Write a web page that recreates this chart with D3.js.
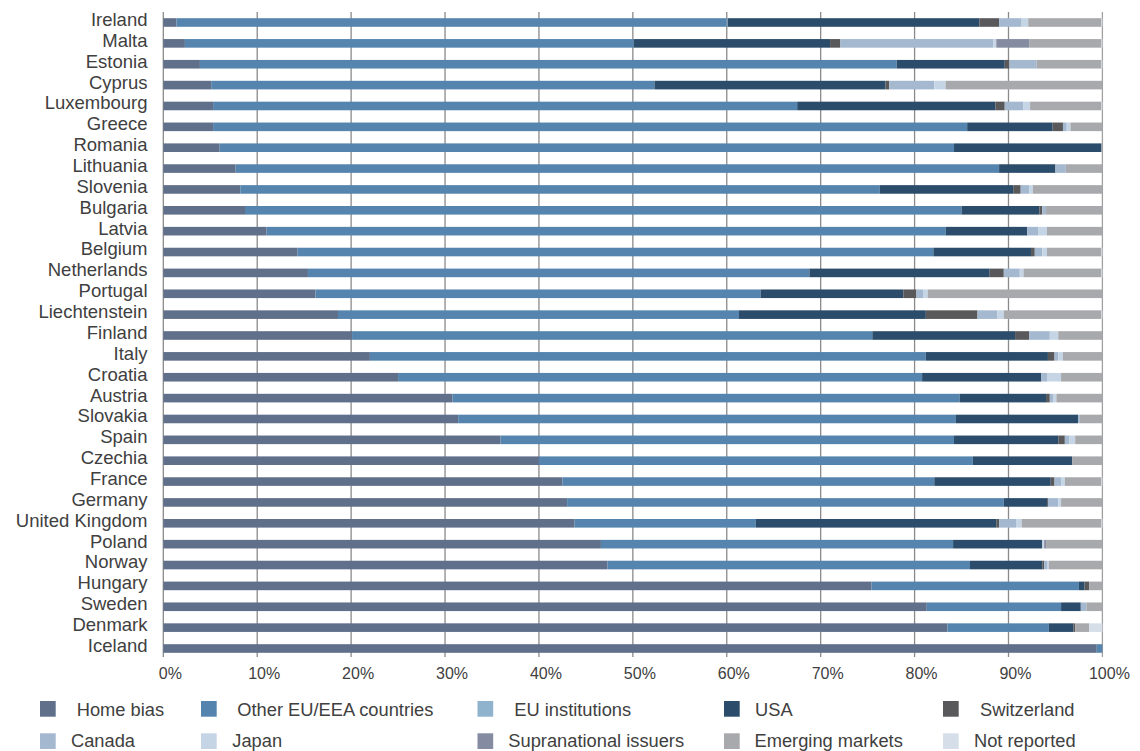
<!DOCTYPE html>
<html>
<head>
<meta charset="utf-8">
<script src="https://cdn.jsdelivr.net/npm/d3@7"></script>
<style>
  html, body { margin: 0; padding: 0; background: #fff; }
  svg text { font-family: "Liberation Sans", Arial, sans-serif; font-weight: 400; fill: #404040; }
</style>
</head>
<body>
<svg id="chart" width="1140" height="751"></svg>
<script>
const countries = ["Ireland","Malta","Estonia","Cyprus","Luxembourg","Greece","Romania","Lithuania","Slovenia","Bulgaria","Latvia","Belgium","Netherlands","Portugal","Liechtenstein","Finland","Italy","Croatia","Austria","Slovakia","Spain","Czechia","France","Germany","United Kingdom","Poland","Norway","Hungary","Sweden","Denmark","Iceland"];

const seriesNames = ["Home bias","Other EU/EEA countries","EU institutions","USA","Switzerland","Canada","Japan","Supranational issuers","Emerging markets","Not reported"];
const seriesColors = ["#606f8a","#5585ae","#8fb2cd","#2b4d6b","#59595b","#a4b8d0","#c5d5e6","#858ca1","#a8a9ac","#d6dee9"];

const homeBias     = [1.4,2.3,3.9,5.1,5.3,5.3,6.0,7.7,8.2,8.7,11.0,14.3,15.4,16.2,18.6,20.1,22.0,25.0,30.8,31.4,35.9,40.0,42.5,43.0,43.8,46.6,47.3,75.4,81.3,83.5,99.4];
const otherEU      = [58.6,47.8,74.2,47.2,62.2,80.3,78.2,81.3,68.1,76.3,72.3,67.7,53.4,47.4,42.7,55.4,59.2,55.8,54.0,53.0,48.3,46.2,39.6,46.5,19.3,37.5,38.6,22.1,14.3,10.8,0.6];
const euInst       = [0.1,0,0,0,0,0,0,0,0,0,0,0,0,0,0,0,0,0,0,0,0,0,0,0,0,0,0,0,0,0,0];
const usa          = [26.8,20.9,11.5,24.6,21.1,9.1,15.7,6.0,14.2,8.3,8.7,10.4,19.2,15.2,19.9,15.2,13.0,12.7,9.2,13.0,11.1,10.6,12.4,4.6,25.6,9.5,7.7,0.6,2.1,2.6,0];
const switzerland  = [2.1,1.1,0.5,0.4,1.0,1.1,0,0,0.8,0.3,0,0.4,1.5,1.4,5.5,1.5,0.7,0,0.4,0,0.7,0,0.4,0.1,0.3,0,0.2,0.5,0,0.2,0];
const canada       = [2.4,16.3,2.9,4.8,2.0,0.4,0,1.1,0.9,0.4,1.2,0.8,1.7,0.7,2.1,2.2,0.4,0.6,0.4,0.2,0.5,0,0.7,1.1,1.8,0,0.3,0,0.6,0,0];
const japan        = [0.7,0.3,0,1.2,0.7,0.4,0,0,0.4,0,0.9,0.5,0.4,0.5,0.7,0.9,0.5,1.5,0.3,0,0.6,0,0.4,0.3,0.6,0.2,0.2,0,0,0,0];
const supranational= [0,3.5,0,0,0,0,0,0,0,0,0,0,0,0,0,0,0,0,0,0,0,0,0,0,0,0.2,0,0,0,0,0];
const emerging     = [7.8,7.7,6.9,16.7,7.6,3.4,0.1,3.9,7.4,6.0,5.9,5.8,8.3,18.6,10.4,4.7,4.2,4.4,4.9,2.4,2.9,3.2,3.9,4.4,8.5,6.0,5.7,1.4,1.7,1.5,0];
const notReported  = [0.1,0.1,0.1,0,0.1,0,0,0,0,0,0,0.1,0.1,0,0.1,0,0,0,0,0,0,0,0.1,0,0.1,0,0,0,0,1.4,0];

const xTicks = [0,10,20,30,40,50,60,70,80,90,100];
const tickLabels = xTicks.map(d => d + "%");

const seriesValues = [homeBias, otherEU, euInst, usa, switzerland, canada, japan, supranational, emerging, notReported];

// Build table for d3.stack
const table = countries.map((c, i) => {
  const row = { country: c };
  seriesNames.forEach((s, k) => { row[s] = seriesValues[k][i]; });
  return row;
});

const svg = d3.select("#chart");

const x = d3.scaleLinear().domain([0, 100]).range([163.3, 1102.4]);
const y = d3.scalePoint().domain(countries).range([22.5, 648.5]);
const barH = 8.6;

// Gridlines
svg.append("g")
  .selectAll("line")
  .data(xTicks)
  .join("line")
  .attr("x1", d => x(d)).attr("x2", d => x(d))
  .attr("y1", 12).attr("y2", 657)
  .attr("stroke", d => d === 100 ? "#a0a0a0" : "#8a8a8a")
  .attr("stroke-width", 1.3);

// Stacked bars
const stack = d3.stack().keys(seriesNames);
const stacked = stack(table);

svg.append("g")
  .selectAll("g")
  .data(stacked)
  .join("g")
  .attr("fill", (d, i) => seriesColors[i])
  .selectAll("rect")
  .data(d => d)
  .join("rect")
  .attr("x", d => x(d[0]))
  .attr("width", d => Math.max(0, x(d[1]) - x(d[0])))
  .attr("y", d => y(d.data.country) - barH / 2)
  .attr("height", barH);

// Country labels
svg.append("g")
  .selectAll("text")
  .data(countries)
  .join("text")
  .attr("x", 147.5)
  .attr("y", d => y(d) + 3.4)
  .attr("text-anchor", "end")
  .attr("font-size", "18.5px")
  .text(d => d);

// X tick labels
svg.append("g")
  .selectAll("text")
  .data(xTicks)
  .join("text")
  .attr("x", d => x(d) + 7)
  .attr("y", 678.5)
  .attr("text-anchor", "middle")
  .attr("font-size", "16px")
  .text((d, i) => tickLabels[i]);

// Legend
const legendSwatchX = [40, 201, 477.5, 724, 943];
const legendTextX = [[76.7, 237.3, 514.3, 755, 980], [71, 232.3, 508.3, 754.5, 974]];
const legendRowTop = [701, 733.3];
const legendBaseline = [715.6, 746.7];

const legend = svg.append("g");
seriesNames.forEach((s, k) => {
  const row = Math.floor(k / 5), col = k % 5;
  legend.append("rect")
    .attr("x", legendSwatchX[col]).attr("y", legendRowTop[row])
    .attr("width", 15.7).attr("height", 15.7)
    .attr("fill", seriesColors[k]);
  legend.append("text")
    .attr("x", legendTextX[row][col]).attr("y", legendBaseline[row])
    .attr("font-size", "18.3px")
    .text(s);
});
</script>
</body>
</html>
